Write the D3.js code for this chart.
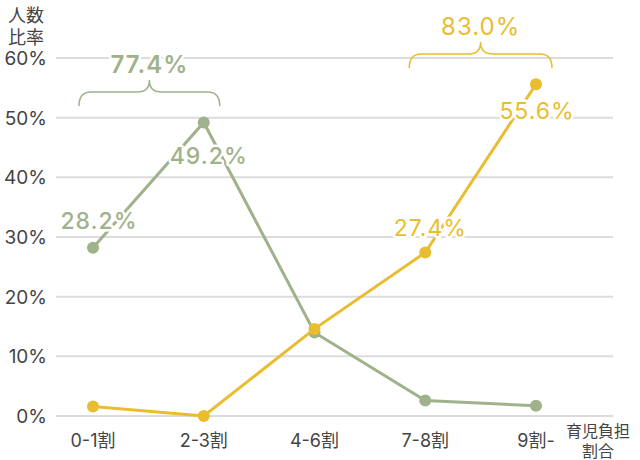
<!DOCTYPE html>
<html><head><meta charset="utf-8">
<script src="https://cdn.jsdelivr.net/npm/d3@7"></script>
<style>
body{margin:0;background:#fff;}
text{font-family:Inter,"Noto Sans CJK JP",sans-serif;}
</style></head>
<body><svg id="c" width="640" height="460"></svg>
<script>
const categories = ["0-1割","2-3割","4-6割","7-8割","9割-"];
const greenValues = [28.2, 49.2, 14.0, 2.6, 1.7];
const yellowValues = [1.6, 0.0, 14.6, 27.4, 55.6];
const yTicks = [0,10,20,30,40,50,60];
const greenSum = "77.4%";
const yellowSum = "83.0%";

const GREEN = "#9fb28b", YELLOW = "#e9bd2f", TXT = "#444";
const svg = d3.select("#c");
const x = d3.scalePoint().domain(categories).range([93,536]);
const y = d3.scaleLinear().domain([0,60]).range([416,58]);

// grid
svg.append("g").selectAll("line").data(yTicks).join("line")
  .attr("x1",56).attr("x2",613).attr("y1",d=>y(d)).attr("y2",d=>y(d))
  .attr("stroke","#dcdcdc").attr("stroke-width",2);
svg.append("g").selectAll("text").data(yTicks).join("text")
  .attr("x",47).attr("y",d=>y(d)+7).attr("text-anchor","end")
  .attr("font-size",19).attr("fill",TXT).text(d=>d+"%");
// y title
svg.append("text").attr("x",8).attr("y",22).attr("font-size",18).attr("fill",TXT).text("人数");
svg.append("text").attr("x",8).attr("y",44).attr("font-size",18).attr("fill",TXT).text("比率");
// x labels
svg.append("g").selectAll("text").data(categories).join("text")
  .attr("x",d=>x(d)).attr("y",447).attr("text-anchor","middle")
  .attr("font-size",18).attr("fill",TXT).text(d=>d);
svg.append("text").attr("x",598).attr("y",437).attr("text-anchor","middle").attr("font-size",16).attr("fill",TXT).text("育児負担");
svg.append("text").attr("x",598).attr("y",457).attr("text-anchor","middle").attr("font-size",16).attr("fill",TXT).text("割合");

const line = d3.line().x((d,i)=>x(categories[i])).y(d=>y(d));
function series(vals,color){
  svg.append("path").attr("d",line(vals)).attr("fill","none").attr("stroke",color).attr("stroke-width",3);
  svg.append("g").selectAll("circle").data(vals).join("circle")
    .attr("cx",(d,i)=>x(categories[i])).attr("cy",d=>y(d)).attr("r",6).attr("fill",color);
}
series(greenValues,GREEN);
series(yellowValues,YELLOW);

function label(txt,cx,by,color,size,weight){
  svg.append("text").attr("x",cx).attr("y",by).attr("text-anchor","middle")
    .attr("font-size",size||23).attr("font-weight",weight||400).attr("letter-spacing",1).attr("fill",color)
    .attr("stroke","#fff").attr("stroke-width",5).attr("paint-order","stroke")
    .attr("stroke-linejoin","round").text(txt);
}
label(greenValues[0].toFixed(1)+"%", x(categories[0])+6, y(greenValues[0])-19, GREEN, 23, 500);
label(greenValues[1].toFixed(1)+"%", x(categories[1])+5, y(greenValues[1])+42, GREEN, 23, 500);
label(yellowValues[3].toFixed(1)+"%", x(categories[3])+5, y(yellowValues[3])-17, YELLOW);
label(yellowValues[4].toFixed(1)+"%", x(categories[4])+1, y(yellowValues[4])+35, YELLOW);

function bracket(x0,x1,yEnd,yTop,color,txt,weight){
  const xm=(x0+x1)/2, h=yTop, r=12;
  const p=d3.path();
  p.moveTo(x0,yEnd);
  p.quadraticCurveTo(x0,h,x0+r,h);
  p.lineTo(xm-r,h);
  p.quadraticCurveTo(xm,h,xm,h-12);
  p.quadraticCurveTo(xm,h,xm+r,h);
  p.lineTo(x1-r,h);
  p.quadraticCurveTo(x1,h,x1,yEnd);
  svg.append("path").attr("d",p.toString()).attr("fill","none").attr("stroke",color).attr("stroke-width",1.5);
  label(txt,xm,h-19,color,24,weight);
}
bracket(x(categories[0])-14, x(categories[1])+16, 106, 92, GREEN, greenSum, 600);
bracket(x(categories[3])-16, x(categories[4])+16, 68, 54, YELLOW, yellowSum, 400);
</script></body></html>
